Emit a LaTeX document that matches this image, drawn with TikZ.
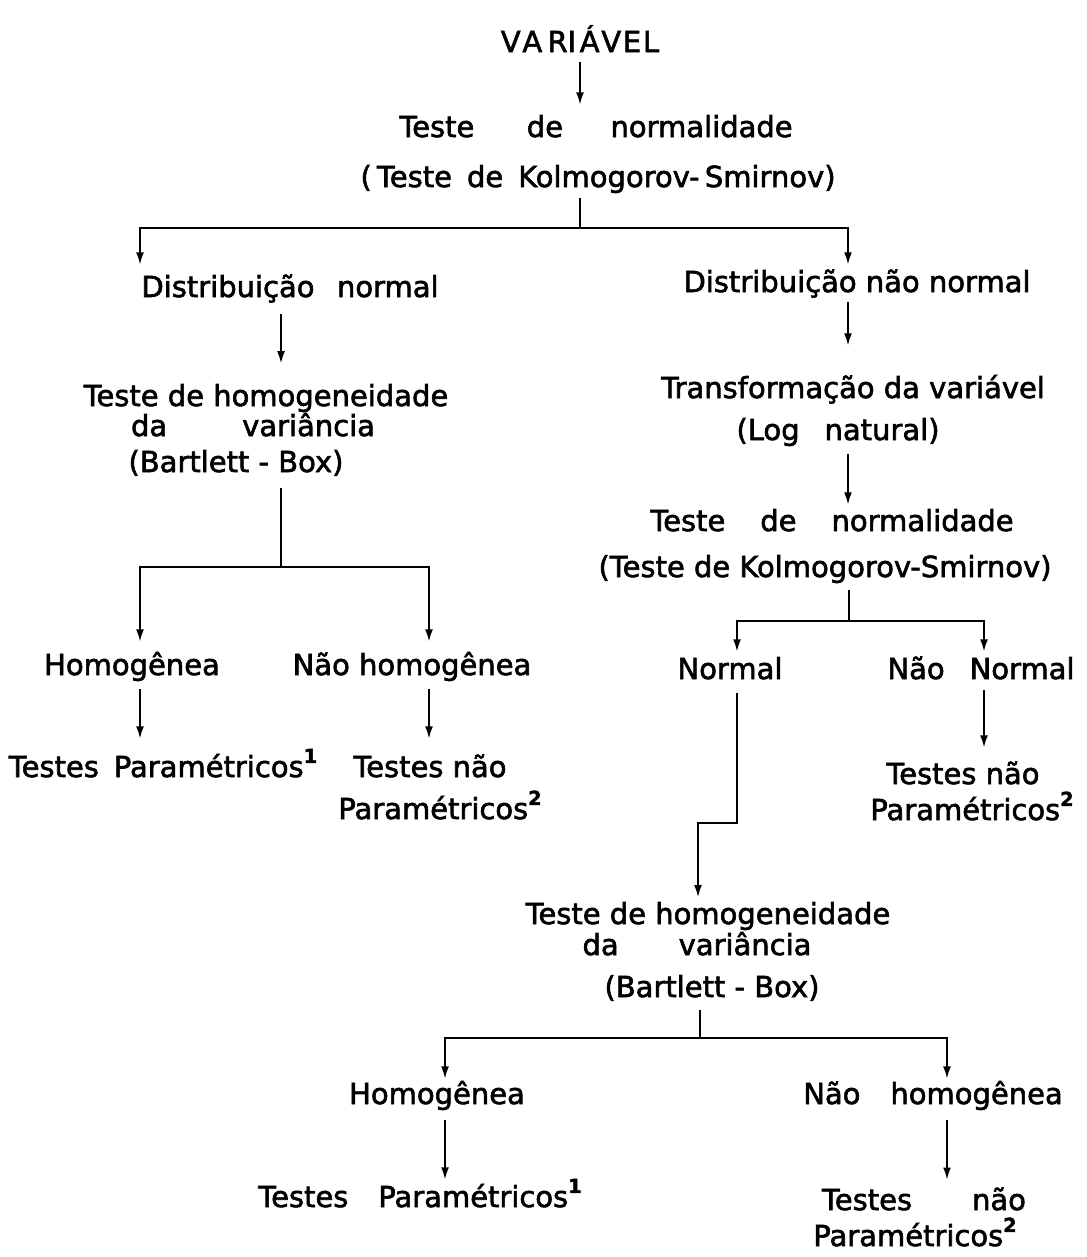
\documentclass[tikz,border=0pt]{standalone}
\usepackage{fontspec}
\setmainfont{DejaVu Sans}[FakeBold=2]
\newfontfamily\lett{DejaVu Sans}[FakeBold=2]
\usetikzlibrary{arrows.meta}
\newcommand{\supn}[1]{\raisebox{8pt}{\fontsize{11}{11}\selectfont\bfseries #1}}
\begin{document}
\begin{tikzpicture}[x=0.02cm,y=-0.02cm,
  lbl/.style={font=\lett\fontsize{16.5}{19}\selectfont, inner sep=0pt, text height=11pt, text depth=3pt},
  conn/.style={line width=1.1pt},
  arr/.style={conn,-{Latex[length=7pt,width=4.5pt]}}]
\useasboundingbox (0,0) rectangle (1086,1257);
\fill[white] (0,0) rectangle (1086,1257);

% ---- top ----
\node[lbl] (v0) at (580,45) {V\hspace{1pt}A\hspace{3pt}RI\hspace{2pt}Á\hspace{1pt}V\hspace{1pt}E\hspace{1pt}L};
\node[lbl] (t1) at (596,130) {Teste\hspace{1.05cm}de\hspace{0.95cm}normalidade};
\node[lbl] (k1) at (598,180) {(\hspace{3pt}Teste\hspace{0.3cm}de\hspace{0.3cm}Kolmogorov-\hspace{3pt}Smirnov)};

% ---- left branch ----
\node[lbl] (dn) at (290,290) {Distribuição\hspace{0.45cm}normal};
\node[lbl] (h1) at (266,399) {Teste de homogeneidade};
\node[lbl] (h2) at (253,429) {da\hspace{1.5cm}variância};
\node[lbl] (h3) at (236,465) {(Bartlett - Box)};
\node[lbl] (ho1) at (132,668) {Homogênea};
\node[lbl] (nh1) at (412,668) {Não homogênea};
\node[lbl] (tp1) at (163,770) {Testes\hspace{0.3cm}Paramétricos\supn{1}};
\node[lbl] (tn1a) at (430,770) {Testes não};
\node[lbl] (tn1b) at (440,812) {Paramétricos\supn{2}};

% ---- right branch ----
\node[lbl] (dnn) at (857,285) {Distribuição não normal};
\node[lbl] (tr) at (853,391) {Transformação da variável};
\node[lbl] (ln) at (838,433) {(Log\hspace{0.5cm}natural)};
\node[lbl] (t2) at (832,524) {Teste\hspace{0.7cm}de\hspace{0.7cm}normalidade};
\node[lbl] (k2) at (825,570) {(Teste de Kolmogorov-Smirnov)};
\node[lbl] (no) at (730,672) {Normal};
\node[lbl] (nn) at (981,672) {Não\hspace{0.5cm}Normal};
\node[lbl] (tn2a) at (963,777) {Testes não};
\node[lbl] (tn2b) at (972,813) {Paramétricos\supn{2}};

% ---- bottom ----
\node[lbl] (h1b) at (708,917) {Teste de homogeneidade};
\node[lbl] (h2b) at (697,948) {da\hspace{1.2cm}variância};
\node[lbl] (h3b) at (712,990) {(Bartlett - Box)};
\node[lbl] (ho2) at (437,1097) {Homogênea};
\node[lbl] (nh2) at (933,1097) {Não\hspace{0.6cm}homogênea};
\node[lbl] (tp2) at (420,1200) {Testes\hspace{0.6cm}Paramétricos\supn{1}};
\node[lbl] (tn3a) at (924,1203) {Testes\hspace{1.2cm}não};
\node[lbl] (tn3b) at (915,1239) {Paramétricos\supn{2}};

% ---- junction points ----
\coordinate (f1) at (580,228); \coordinate (f1l) at (140,228); \coordinate (f1r) at (848,228);
\coordinate (f2) at (281,567); \coordinate (f2l) at (140,567); \coordinate (f2r) at (429,567);
\coordinate (f3) at (849,621); \coordinate (f3l) at (737,621); \coordinate (f3r) at (984,621);
\coordinate (e1) at (737,823); \coordinate (e2) at (698,823);
\coordinate (f4) at (700,1038); \coordinate (f4l) at (445,1038); \coordinate (f4r) at (947,1038);

% ---- connectors: top ----
\draw[arr, shorten <=2.7pt, shorten >=7.2pt] (v0.south) -- (v0.south |- t1.north);
\draw[conn, shorten <=3.2pt] (k1.south -| f1) -- (f1);
\draw[arr, shorten >=7.2pt] (f1) -| (dn.north -| f1l);
\draw[arr, shorten >=4.4pt] (f1) -| (dnn.north -| f1r);

% ---- connectors: left ----
\draw[arr, shorten <=6.7pt, shorten >=13pt] (dn.south -| f2) -- (h1.north -| f2);
\draw[conn, shorten <=6.1pt] (h3.south -| f2) -- (f2);
\draw[arr, shorten >=7.8pt] (f2) -| (ho1.north -| f2l);
\draw[arr, shorten >=7.8pt] (f2) -| (nh1.north -| f2r);
\draw[arr, shorten <=5pt, shorten >=10.6pt] (ho1.south -| f2l) -- (tp1.north -| f2l);
\draw[arr, shorten <=5pt, shorten >=10.6pt] (nh1.south -| f2r) -- (tn1a.north -| f2r);

% ---- connectors: right ----
\draw[arr, shorten <=2.7pt, shorten >=18.6pt] (dnn.south -| f1r) -- (tr.north -| f1r);
\draw[arr, shorten <=5pt, shorten >=3.8pt] (ln.south -| f1r) -- (t2.north -| f1r);
\draw[conn, shorten <=4.4pt] (k2.south -| f3) -- (f3);
\draw[arr, shorten >=4.4pt] (f3) -| (no.north -| f3l);
\draw[arr, shorten >=4.4pt] (f3) -| (nn.north -| f3r);
\draw[arr, shorten <=3.2pt, shorten >=9.5pt] (nn.south -| f3r) -- (tn2a.north -| f3r);
\draw[arr, shorten <=5pt, shorten >=4pt] (no.south -| f3l) -- (e1) -- (e2) -- (h1b.north -| e2);

% ---- connectors: bottom ----
\draw[conn, shorten <=4.4pt] (h3b.south -| f4) -- (f4);
\draw[arr, shorten >=3.2pt] (f4) -| (ho2.north -| f4l);
\draw[arr, shorten >=3.2pt] (f4) -| (nh2.north -| f4r);
\draw[arr, shorten <=6pt, shorten >=4.4pt] (ho2.south -| f4l) -- (tp2.north -| f4l);
\draw[arr, shorten <=6pt, shorten >=6pt] (nh2.south -| f4r) -- (tn3a.north -| f4r);
\end{tikzpicture}
\end{document}
